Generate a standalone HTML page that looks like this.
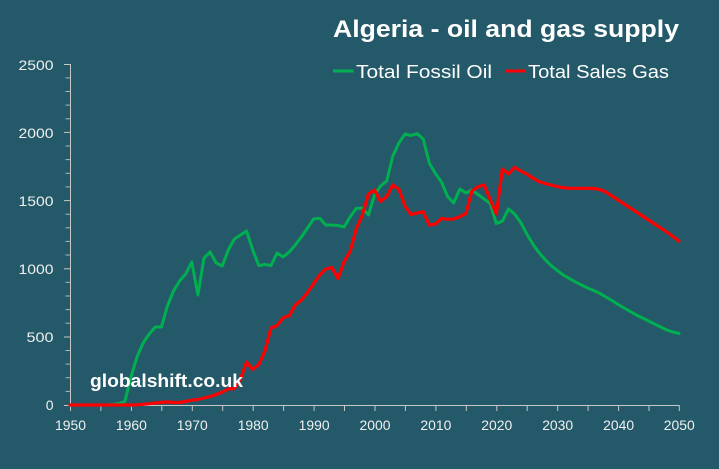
<!DOCTYPE html>
<html>
<head>
<meta charset="utf-8">
<style>
html,body{margin:0;padding:0;background:#235968;}
svg{display:block;}
text{font-family:"Liberation Sans",sans-serif;}
</style>
</head>
<body>
<svg width="719" height="469" viewBox="0 0 719 469" xmlns="http://www.w3.org/2000/svg">
<rect x="0" y="0" width="719" height="469" fill="#235968"/>

<!-- Title -->
<text x="333" y="37" font-size="24" font-weight="bold" fill="#ffffff" textLength="346" lengthAdjust="spacingAndGlyphs">Algeria - oil and gas supply</text>

<!-- Legend -->
<line x1="333" y1="71" x2="353.5" y2="71" stroke="#00b050" stroke-width="3"/>
<text x="356" y="78" font-size="18" fill="#ffffff" textLength="136" lengthAdjust="spacingAndGlyphs">Total Fossil Oil</text>
<line x1="506" y1="71" x2="526" y2="71" stroke="#ff0000" stroke-width="3"/>
<text x="528" y="78" font-size="18" fill="#ffffff" textLength="141" lengthAdjust="spacingAndGlyphs">Total Sales Gas</text>

<!-- Y axis -->
<g stroke="#c8c8c8" stroke-width="1">
<line x1="70.5" y1="64" x2="70.5" y2="405"/>
<line x1="64" y1="405.5" x2="70.5" y2="405.5"/>
<line x1="64" y1="337" x2="70.5" y2="337"/>
<line x1="64" y1="268.8" x2="70.5" y2="268.8"/>
<line x1="64" y1="200.6" x2="70.5" y2="200.6"/>
<line x1="64" y1="132.4" x2="70.5" y2="132.4"/>
<line x1="64" y1="64.5" x2="70.5" y2="64.5"/>
</g>
<g stroke="#a9b9bf" stroke-width="1">
<line x1="65.5" y1="391.4" x2="70.5" y2="391.4"/>
<line x1="65.5" y1="377.7" x2="70.5" y2="377.7"/>
<line x1="65.5" y1="364.1" x2="70.5" y2="364.1"/>
<line x1="65.5" y1="350.5" x2="70.5" y2="350.5"/>
<line x1="65.5" y1="323.2" x2="70.5" y2="323.2"/>
<line x1="65.5" y1="309.6" x2="70.5" y2="309.6"/>
<line x1="65.5" y1="296" x2="70.5" y2="296"/>
<line x1="65.5" y1="282.3" x2="70.5" y2="282.3"/>
<line x1="65.5" y1="255" x2="70.5" y2="255"/>
<line x1="65.5" y1="241.4" x2="70.5" y2="241.4"/>
<line x1="65.5" y1="227.8" x2="70.5" y2="227.8"/>
<line x1="65.5" y1="214.2" x2="70.5" y2="214.2"/>
<line x1="65.5" y1="186.9" x2="70.5" y2="186.9"/>
<line x1="65.5" y1="173.3" x2="70.5" y2="173.3"/>
<line x1="65.5" y1="159.6" x2="70.5" y2="159.6"/>
<line x1="65.5" y1="146" x2="70.5" y2="146"/>
<line x1="65.5" y1="118.8" x2="70.5" y2="118.8"/>
<line x1="65.5" y1="105.1" x2="70.5" y2="105.1"/>
<line x1="65.5" y1="91.5" x2="70.5" y2="91.5"/>
<line x1="65.5" y1="77.9" x2="70.5" y2="77.9"/>
</g>

<!-- Y labels -->
<g font-size="14" fill="#f0f0f0" text-anchor="end">
<text x="53.5" y="410">0</text>
<text x="53.5" y="342" textLength="27" lengthAdjust="spacingAndGlyphs">500</text>
<text x="53.5" y="274" textLength="35" lengthAdjust="spacingAndGlyphs">1000</text>
<text x="53.5" y="206" textLength="35" lengthAdjust="spacingAndGlyphs">1500</text>
<text x="53.5" y="138" textLength="35" lengthAdjust="spacingAndGlyphs">2000</text>
<text x="53.5" y="70" textLength="35" lengthAdjust="spacingAndGlyphs">2500</text>
</g>

<!-- X axis -->
<g stroke="#c8c8c8" stroke-width="1">
<line x1="70" y1="405.5" x2="679.5" y2="405.5"/>
<line x1="70.5" y1="405" x2="70.5" y2="411"/>
<line x1="100.9" y1="405" x2="100.9" y2="411"/>
<line x1="131.4" y1="405" x2="131.4" y2="411"/>
<line x1="161.8" y1="405" x2="161.8" y2="411"/>
<line x1="192.3" y1="405" x2="192.3" y2="411"/>
<line x1="222.7" y1="405" x2="222.7" y2="411"/>
<line x1="253.2" y1="405" x2="253.2" y2="411"/>
<line x1="283.6" y1="405" x2="283.6" y2="411"/>
<line x1="314.1" y1="405" x2="314.1" y2="411"/>
<line x1="344.5" y1="405" x2="344.5" y2="411"/>
<line x1="375" y1="405" x2="375" y2="411"/>
<line x1="405.4" y1="405" x2="405.4" y2="411"/>
<line x1="435.9" y1="405" x2="435.9" y2="411"/>
<line x1="466.3" y1="405" x2="466.3" y2="411"/>
<line x1="496.8" y1="405" x2="496.8" y2="411"/>
<line x1="527.2" y1="405" x2="527.2" y2="411"/>
<line x1="557.7" y1="405" x2="557.7" y2="411"/>
<line x1="588.1" y1="405" x2="588.1" y2="411"/>
<line x1="618.6" y1="405" x2="618.6" y2="411"/>
<line x1="649" y1="405" x2="649" y2="411"/>
<line x1="679.3" y1="405" x2="679.3" y2="411"/>
</g>

<!-- X labels -->
<g font-size="14" fill="#f0f0f0" text-anchor="middle">
<text x="70.5" y="430" textLength="31" lengthAdjust="spacingAndGlyphs">1950</text>
<text x="131.4" y="430" textLength="31" lengthAdjust="spacingAndGlyphs">1960</text>
<text x="192.3" y="430" textLength="31" lengthAdjust="spacingAndGlyphs">1970</text>
<text x="253.2" y="430" textLength="31" lengthAdjust="spacingAndGlyphs">1980</text>
<text x="314.1" y="430" textLength="31" lengthAdjust="spacingAndGlyphs">1990</text>
<text x="375" y="430" textLength="31" lengthAdjust="spacingAndGlyphs">2000</text>
<text x="435.9" y="430" textLength="31" lengthAdjust="spacingAndGlyphs">2010</text>
<text x="496.8" y="430" textLength="31" lengthAdjust="spacingAndGlyphs">2020</text>
<text x="557.7" y="430" textLength="31" lengthAdjust="spacingAndGlyphs">2030</text>
<text x="618.6" y="430" textLength="31" lengthAdjust="spacingAndGlyphs">2040</text>
<text x="679.3" y="430" textLength="31" lengthAdjust="spacingAndGlyphs">2050</text>
</g>

<!-- Oil (green) -->
<polyline fill="none" stroke="#00b050" stroke-width="3" stroke-linejoin="round" stroke-linecap="round"
points="70,405 76.1,405 82.2,405 88.3,405 94.4,405 100.5,405 106.5,405 112.6,404.5 118.7,403.5 124.8,401.5 130.9,377 137,357 143.1,343 149.2,334 155.3,327 161.4,327 167.4,306 173.5,291 179.6,281 185.7,274 191.8,262 197.9,295 204,258 210.1,252 216.2,263 222.3,266 228.3,250 234.4,239 240.5,235 246.6,231 252.7,250 258.8,265.5 264.9,264.5 271,265.5 277.1,253 283.2,257 289.2,252 295.3,245 301.4,237 307.5,228 313.6,219 319.7,218.3 325.8,225 331.9,225 338,225.5 344.1,227 350.1,217 356.2,208.5 362.3,208 368.4,215 374.5,195 380.6,186 386.7,181 392.8,156 398.9,143 405,134 411,135.5 417.1,133.5 423.2,139 429.3,163 435.4,173.5 441.5,182 447.6,196.5 453.7,203 459.8,189 465.9,193 471.9,190 478,194.5 484.1,199 490.2,203.5 496.3,223.5 502.4,221 508.5,209 514.6,214 520.7,222.5 526.8,234 532.8,244 538.9,252.5 545,259.5 551.1,265.5 557.2,270.5 563.3,275 569.4,278.5 575.5,282 581.6,285 587.7,288 593.7,290.5 599.8,293.3 605.9,297 612,300.5 618.1,304.5 624.2,308 630.3,311.5 636.4,315 642.5,318 648.6,321 654.6,324 660.7,327 666.8,330 672.9,332 679,333.5"/>

<!-- Gas (red) -->
<polyline fill="none" stroke="#ff0000" stroke-width="3.2" stroke-linejoin="round" stroke-linecap="round"
points="70,405 76.1,405 82.2,405 88.3,405 94.4,405 100.5,405 106.5,405 112.6,405 118.7,405 124.8,405 130.9,405 137,404.8 143.1,404.3 149.2,403.7 155.3,403 161.4,402.4 167.4,402 173.5,402.5 179.6,402.5 185.7,401.5 191.8,400.2 197.9,399.5 204,398 210.1,396.5 216.2,394.5 222.3,392 228.3,389 234.4,388.5 240.5,379 246.6,362 252.7,369.5 258.8,364.5 264.9,351 271,328 277.1,325.5 283.2,317.7 289.2,315.7 295.3,305 301.4,300 307.5,292.5 313.6,283.5 319.7,275 325.8,269 331.9,267.5 338,278.5 344.1,261.5 350.1,251.5 356.2,229 362.3,215 368.4,194 374.5,190 380.6,201.5 386.7,196.5 392.8,185 398.9,189.3 405,206 411,214.5 417.1,213 423.2,211.7 429.3,225 435.4,224 441.5,218.5 447.6,219.3 453.7,219 459.8,216.7 465.9,213.5 471.9,191 478,186.7 484.1,185 490.2,199.5 496.3,214 502.4,169 508.5,174 514.6,167.3 520.7,171 526.8,174 532.8,178 538.9,181.5 545,183.5 551.1,185 557.2,186.5 563.3,187.7 569.4,188.3 575.5,188.3 581.6,188.3 587.7,188.3 593.7,188.5 599.8,189.5 605.9,192 612,196 618.1,200 624.2,204 630.3,208 636.4,212 642.5,216 648.6,220 654.6,224 660.7,228 666.8,232 672.9,236.5 679,241"/>

<!-- Watermark -->
<text x="90" y="387" font-size="18" font-weight="bold" fill="#ffffff" textLength="153" lengthAdjust="spacingAndGlyphs">globalshift.co.uk</text>
</svg>
</body>
</html>
